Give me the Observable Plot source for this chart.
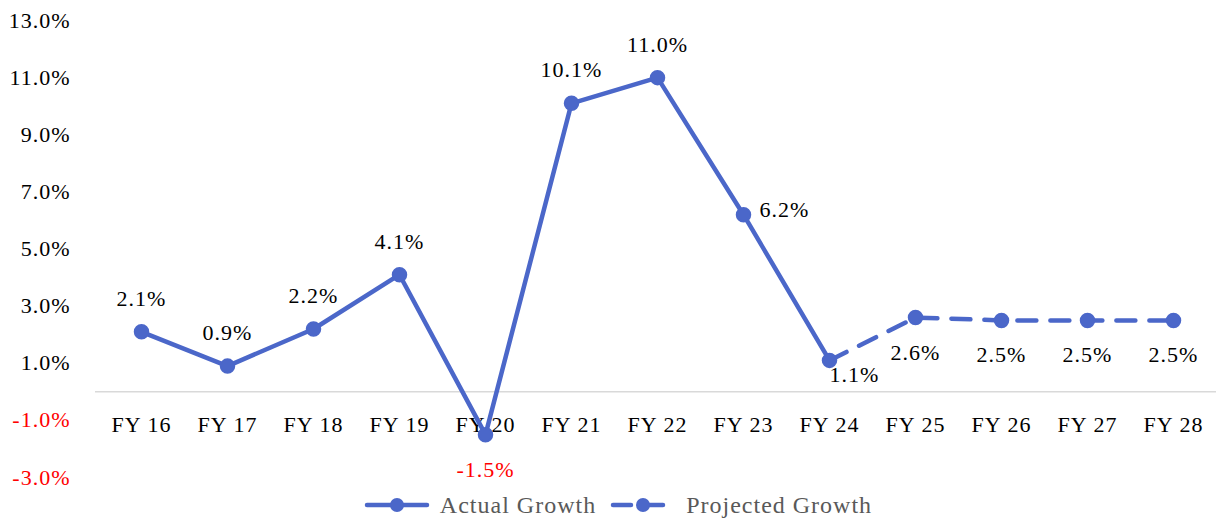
<!DOCTYPE html>
<html>
<head>
<meta charset="utf-8">
<script src="https://cdn.jsdelivr.net/npm/d3@7"></script>
<script src="https://cdn.jsdelivr.net/npm/@observablehq/plot@0.6"></script>
<style>
  html, body { margin: 0; padding: 0; background: #fff; }
  body { width: 1216px; height: 520px; overflow: hidden; font-family: "Palatino Linotype", "Book Antiqua", Palatino, "Liberation Serif", "DejaVu Serif", serif; }
  #legend { display: flex; justify-content: center; align-items: center; height: 30px; font-size: 24px; letter-spacing: 1px; color: #595959; margin-left: 20px; }
  #legend .item { display: flex; align-items: center; }
  #legend svg { margin-right: 10px; }
</style>
</head>
<body>
<div id="chart"></div>
<div id="legend"></div>
<script>
const categories = ["FY 16","FY 17","FY 18","FY 19","FY 20","FY 21","FY 22","FY 23","FY 24","FY 25","FY 26","FY 27","FY 28"];
const growth = [2.1, 0.9, 2.2, 4.1, -1.5, 10.1, 11.0, 6.2, 1.1, 2.6, 2.5, 2.5, 2.5];
const lastActual = "FY 24";
const yTicks = [-3, -1, 1, 3, 5, 7, 9, 11, 13];
const seriesNames = ["Actual Growth", "Projected Growth"];

const color = "#4b67c9";
const labelsBelow = new Set(["FY 20", "FY 25", "FY 26", "FY 27", "FY 28"]);
const labelsRight = new Set(["FY 23"]);
const labelsBelowRight = new Set(["FY 24"]);

const data = categories.map((c, i) => ({cat: c, v: growth[i], idx: i}));
const splitIdx = categories.indexOf(lastActual);
const actual = data.filter(d => d.idx <= splitIdx);
const projected = data.filter(d => d.idx >= splitIdx);
const fmt = v => v.toFixed(1) + "%";
const font = '"Palatino Linotype", "Book Antiqua", Palatino, "Liberation Serif", "DejaVu Serif", serif';
const fs = 22;

const above = data.filter(d => !labelsBelow.has(d.cat) && !labelsRight.has(d.cat) && !labelsBelowRight.has(d.cat));
const below = data.filter(d => labelsBelow.has(d.cat));
const right = data.filter(d => labelsRight.has(d.cat));
const belowRight = data.filter(d => labelsBelowRight.has(d.cat));

const chart = Plot.plot({
  width: 1216,
  height: 490,
  marginTop: 20,
  marginBottom: 13,
  marginLeft: 95,
  marginRight: 0,
  style: {fontFamily: font, fontSize: fs + "px", letterSpacing: "1px", background: "#fff", overflow: "visible"},
  x: {type: "point", domain: categories, range: [138, 1176], padding: 0, axis: null},
  y: {domain: [-3, 13], axis: null},
  marks: [
    Plot.ruleY([0], {stroke: "#d9d9d9", strokeWidth: 1.5, strokeOpacity: 1}),
    Plot.text(yTicks, {y: d => d, frameAnchor: "left", dx: -25, textAnchor: "end", text: fmt, fill: d => d < 0 ? "#ff0000" : "#000", fontSize: fs}),
    Plot.text(categories, {x: d => d, y: () => 0, dy: 33, text: d => d, fill: "#000", fontSize: fs}),
    Plot.line(projected, {x: "cat", y: "v", stroke: color, strokeWidth: 4.5, strokeDasharray: "19,14", strokeLinecap: "round"}),
    Plot.line(actual, {x: "cat", y: "v", stroke: color, strokeWidth: 4.5, strokeLinejoin: "round"}),
    Plot.dot(data, {x: "cat", y: "v", r: 7, fill: color, stroke: color}),
    Plot.text(above, {x: "cat", y: "v", text: d => fmt(d.v), dy: -33, fill: "#000", fontSize: fs}),
    Plot.text(below, {x: "cat", y: "v", text: d => fmt(d.v), dy: 35, fill: d => d.v < 0 ? "#ff0000" : "#000", fontSize: fs}),
    Plot.text(right, {x: "cat", y: "v", text: d => fmt(d.v), dx: 16, dy: -5, textAnchor: "start", fill: "#000", fontSize: fs}),
    Plot.text(belowRight, {x: "cat", y: "v", text: d => fmt(d.v), dx: 0, dy: 15, textAnchor: "start", fill: "#000", fontSize: fs})
  ]
});
document.getElementById("chart").appendChild(chart);

// Legend
const legend = d3.select("#legend");
seriesNames.forEach((name, i) => {
  const item = legend.append("div").attr("class", "item").style("margin-right", i === 0 ? "14px" : "0");
  const svg = item.append("svg").attr("width", 66).attr("height", 20);
  svg.append("line").attr("x1", 3).attr("x2", 63).attr("y1", 10).attr("y2", 10)
    .attr("stroke", color).attr("stroke-width", 4.5).attr("stroke-linecap", "round")
    .attr("stroke-dasharray", i === 0 ? null : "18,14");
  svg.append("circle").attr("cx", 33).attr("cy", 10).attr("r", 7).attr("fill", color);
  item.append("span").text(name);
});
</script>
</body>
</html>
